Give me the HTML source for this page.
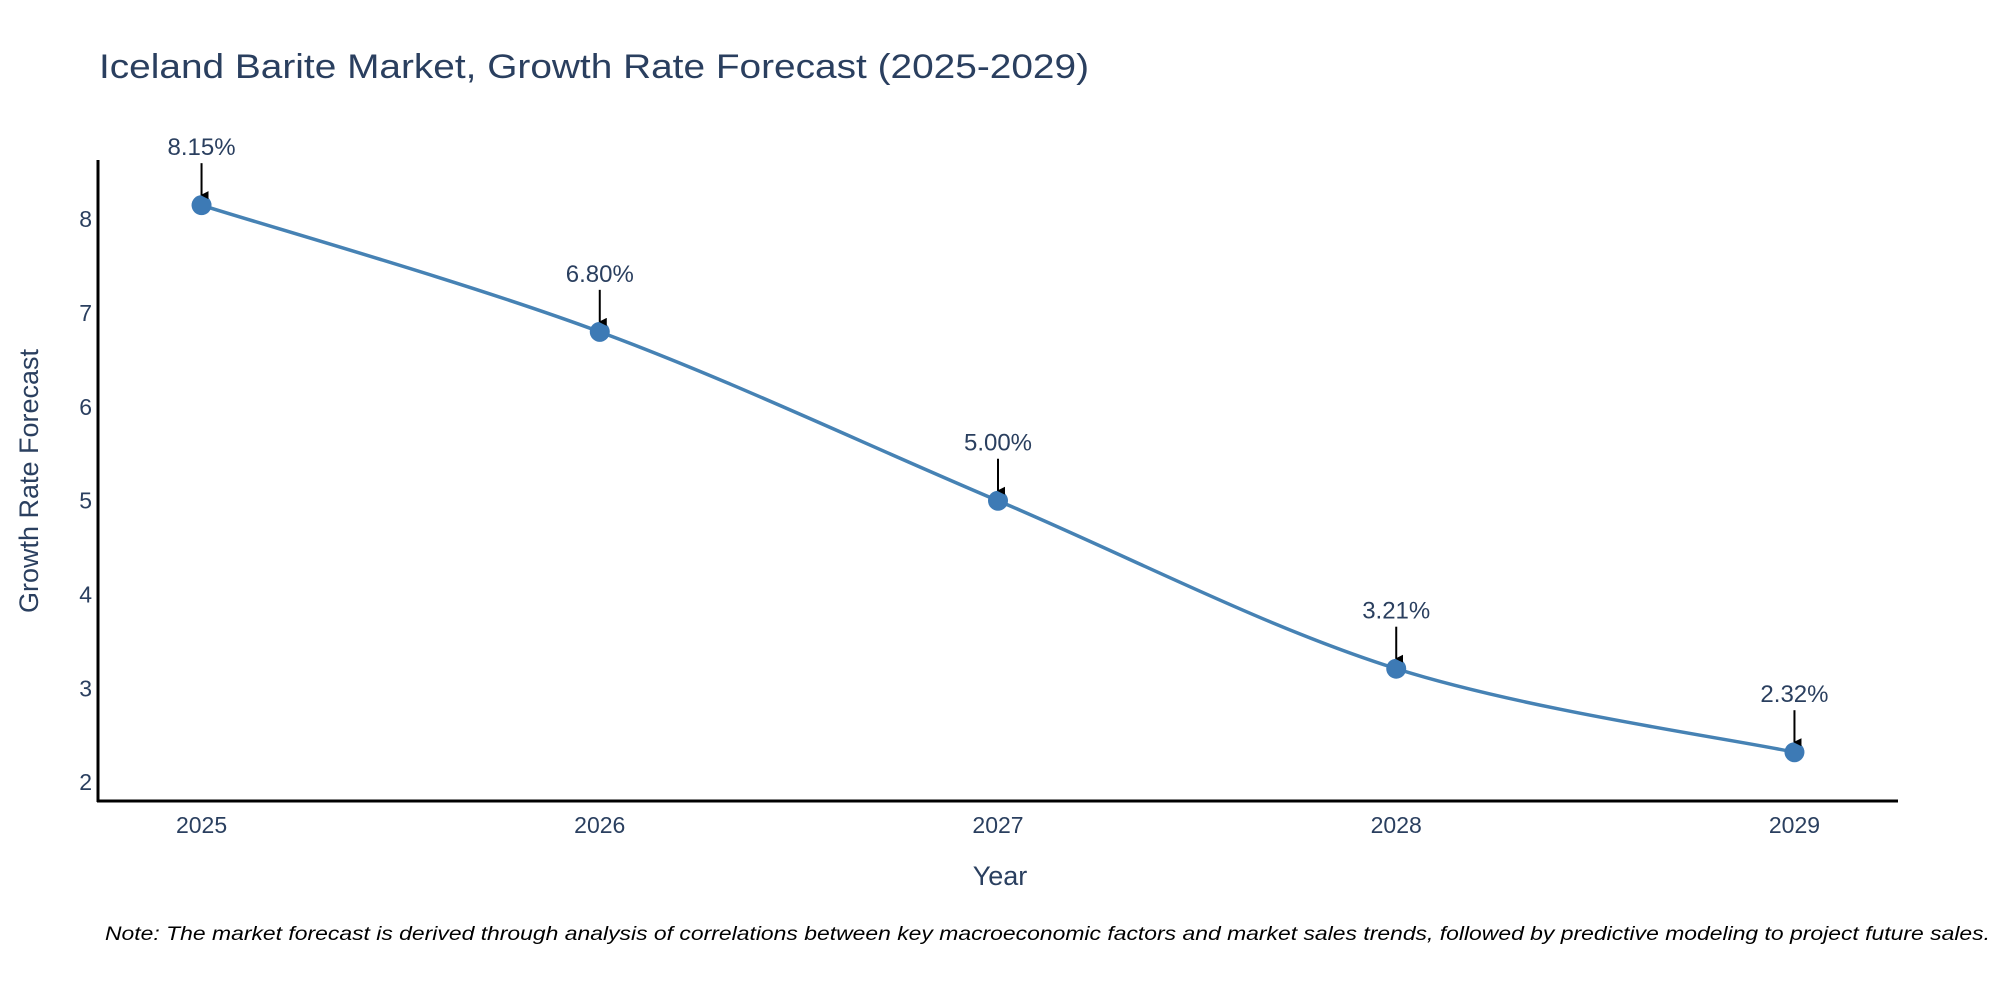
<!DOCTYPE html>
<html><head><meta charset="utf-8"><style>
html,body{margin:0;padding:0;background:#fff;}
svg{display:block;font-family:"Liberation Sans","DejaVu Sans",sans-serif;}
</style></head><body>
<svg id="chart" width="2000" height="1000" viewBox="0 0 2000 1000" xmlns="http://www.w3.org/2000/svg">
<rect width="2000" height="1000" fill="#fff"/>
<text x="99" y="78" font-size="34" fill="#2a3f5f" textLength="990" lengthAdjust="spacingAndGlyphs">Iceland Barite Market, Growth Rate Forecast (2025-2029)</text>
<g id="grid"></g>
<line x1="98" y1="160" x2="98" y2="802" stroke="#000" stroke-width="3"/>
<line x1="97" y1="801" x2="1898" y2="801" stroke="#000" stroke-width="3"/>
<text x="1000" y="885" font-size="27" fill="#2a3f5f" text-anchor="middle">Year</text>
<text transform="translate(38,481) rotate(-90)" font-size="27" fill="#2a3f5f" text-anchor="middle">Growth Rate Forecast</text>
<text x="1990" y="940" font-size="19" font-style="italic" fill="#000" text-anchor="end" textLength="1885" lengthAdjust="spacingAndGlyphs">Note: The market forecast is derived through analysis of correlations between key macroeconomic factors and market sales trends, followed by predictive modeling to project future sales.</text>
<defs><marker id="ah" markerWidth="8" markerHeight="8" refX="4" refY="7" orient="auto-start-reverse" markerUnits="userSpaceOnUse" viewBox="0 0 8 8"><path d="M0,0 L8,0 L4,8 z" fill="#000"/></marker></defs>
<g id="marks"></g>
</svg>
<script>
const years = [2025, 2026, 2027, 2028, 2029];
const values = [8.15, 6.80, 5.00, 3.21, 2.32];
const labels = ["8.15%", "6.80%", "5.00%", "3.21%", "2.32%"];
const yTicks = [2, 3, 4, 5, 6, 7, 8];
const xTicks = [2025, 2026, 2027, 2028, 2029];

const NS = "http://www.w3.org/2000/svg";
const X0 = 98, X1 = 1898, Y0 = 801, Y1 = 162;
const xMin = 2024.74, xMax = 2029.26, yMin = 1.80, yMax = 8.61;
function xs(v){ return X0 + (v - xMin) / (xMax - xMin) * (X1 - X0); }
function ys(v){ return Y0 - (v - yMin) / (yMax - yMin) * (Y0 - Y1); }
const svg = document.getElementById("chart");
const g = document.getElementById("marks");
function mk(tag, attrs, parent){ const e = document.createElementNS(NS, tag); for (const k in attrs) e.setAttribute(k, attrs[k]); (parent||g).appendChild(e); return e; }

yTicks.forEach(t => {
  const e = mk("text", {x: 92, y: ys(t) + 8, "font-size": 23, fill: "#2a3f5f", "text-anchor": "end"});
  
  
  e.textContent = t;
});
xTicks.forEach(t => {
  const e = mk("text", {x: xs(t), y: 833, "font-size": 23, fill: "#2a3f5f", "text-anchor": "middle"});
  
  
  e.textContent = t;
});

// smooth spline (Catmull-Rom)
const pts = years.map((y, i) => [xs(y), ys(values[i])]);
let d = "M" + pts[0][0] + "," + pts[0][1];
const tension = 0.5;
for (let i = 0; i < pts.length - 1; i++) {
  const p0 = pts[i-1] || pts[i], p1 = pts[i], p2 = pts[i+1], p3 = pts[i+2] || p2;
  const c1 = [p1[0] + (p2[0]-p0[0]) * tension/3, p1[1] + (p2[1]-p0[1]) * tension/3];
  const c2 = [p2[0] - (p3[0]-p1[0]) * tension/3, p2[1] - (p3[1]-p1[1]) * tension/3];
  d += " C" + c1[0] + "," + c1[1] + " " + c2[0] + "," + c2[1] + " " + p2[0] + "," + p2[1];
}
const line = mk("path", {d: d, fill: "none", stroke: "#4682B4", "stroke-width": 3.5});



pts.forEach((p, i) => {
  const c = mk("circle", {cx: p[0], cy: p[1], r: 10, fill: "#3d7ab5"});
  
  
  const a = mk("line", {x1: p[0], y1: p[1] - 42, x2: p[0], y2: p[1] - 10, stroke: "#000", "stroke-width": 2, "marker-end": "url(#ah)"});
  
  
  const t = mk("text", {x: p[0], y: p[1] - 50, "font-size": 24, fill: "#2a3f5f", "text-anchor": "middle"});
  
  
  t.textContent = labels[i];
});
</script>
</body></html>
